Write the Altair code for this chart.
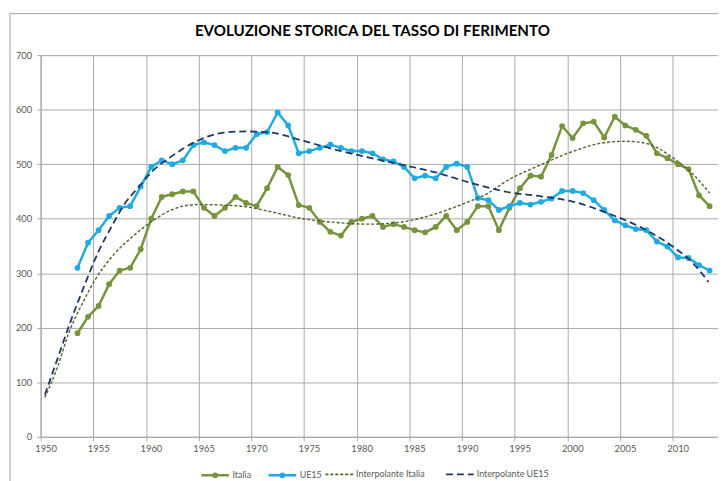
import altair as alt
import pandas as pd

# ---------------- data ----------------
years = list(range(1953, 2014))

italia = [190, 220, 240, 280, 305, 310, 344,
          400, 440, 445, 450, 450, 420, 405, 420, 440, 429,
          423, 456, 495, 480, 425, 420, 394, 376, 369, 394,
          400, 405, 385, 390, 385, 379, 375, 385, 405, 379,
          394, 423, 423, 379, 420, 456, 479, 477, 517, 570,
          548, 575, 578, 549, 587, 571, 563, 552, 520, 511,
          500, 491, 443, 423]

ue15 = [310, 356, 379, 405, 420, 423, 459,
        495, 507, 500, 507, 535, 540, 535, 524, 530, 530,
        555, 559, 595, 571, 520, 524, 530, 536, 530, 524,
        524, 520, 509, 505, 495, 474, 479, 474, 495, 501,
        495, 438, 434, 416, 423, 429, 426, 431, 437, 451,
        451, 447, 434, 416, 397, 388, 381, 379, 358, 349,
        329, 328, 315, 305]

fit_ita_x = [1950.4, 1951.6, 1952.7, 1954.0, 1955.2, 1956.8, 1958.7, 1960.5,
             1962.4, 1964.9, 1967.4, 1969.5, 1971.8, 1974.9, 1978.1, 1981.2,
             1984.3, 1987.5, 1990.6, 1992.2, 1994.3, 1997.5, 2000.6, 2003.7,
             2005.6, 2007.5, 2010.0, 2011.9, 2013.5]
fit_ita_y = [72, 128, 192, 246, 289, 331, 367, 394,
             416, 426, 425, 422, 413, 400, 393, 390,
             394, 409, 431, 444, 470, 499, 524, 540,
             542, 538, 512, 482, 447]

fit_ue_x = [1950.4, 1951.6, 1952.7, 1954.0, 1955.5, 1956.8, 1958.0, 1959.3,
            1960.5, 1962.4, 1964.9, 1967.4, 1969.5, 1971.8, 1974.9, 1978.1,
            1981.2, 1984.3, 1987.5, 1990.6, 1994.3, 1997.5, 2000.6, 2003.7,
            2006.9, 2010.0, 2011.9, 2013.4]
fit_ue_y = [77, 143, 204, 270, 340, 388, 428, 458,
            485, 514, 543, 558, 560, 558, 543, 526,
            512, 499, 485, 467, 449, 441, 431, 411,
            385, 349, 319, 284]

x_ticks = [1950, 1955, 1960, 1965, 1970, 1975, 1980, 1985, 1990, 1995, 2000, 2005, 2010]
y_ticks = [0, 100, 200, 300, 400, 500, 600, 700]

obs_series = ["Italia", "UE15"]
fit_series = ["Interpolante Italia", "Interpolante UE15"]

# ---------------- tables ----------------
obs = pd.DataFrame({
    "anno": years * 2,
    "valore": italia + ue15,
    "serie": ["Italia"] * len(years) + ["UE15"] * len(years),
})
# yearly values are drawn at mid-year, as in the original chart
obs["x"] = obs["anno"] + 0.5

fit = pd.DataFrame({
    "x": fit_ita_x + fit_ue_x,
    "valore": fit_ita_y + fit_ue_y,
    "serie": ["Interpolante Italia"] * len(fit_ita_x) + ["Interpolante UE15"] * len(fit_ue_x),
})

# ---------------- style ----------------
FONT = "Lato"
ITA = "#77933C"
UE = "#1FAAE2"
ITA_FIT = "#4F6228"
UE_FIT = "#1F3864"
GRID = "#a9a9a9"
LBL = "#595959"

W, H = 685, 386
xscale = alt.Scale(domain=[1950, 2014.3], nice=False, zero=False)
yscale = alt.Scale(domain=[0, 700], nice=False)

xaxis = alt.Axis(values=x_ticks, format="d", title=None, grid=True, gridColor=GRID,
                 domainColor=GRID, tickColor=GRID, tickSize=4, labelPadding=3,
                 labelOffset=5, labelFont=FONT, labelFontSize=9.5, labelColor=LBL,
                 labelFlush=False)
yaxis = alt.Axis(values=y_ticks, title=None, grid=True, gridColor=GRID,
                 domainColor=GRID, tickColor=GRID, tickSize=4, labelPadding=5,
                 labelFont=FONT, labelFontSize=9.5, labelColor=LBL)

X = alt.X("x:Q", scale=xscale, axis=xaxis)
Y = alt.Y("valore:Q", scale=yscale, axis=yaxis)

LINE_DOT = "M-1,0H1M-0.12,0A0.12,0.12,0,1,1,0.12,0A0.12,0.12,0,1,1,-0.12,0Z"

leg_obs = alt.Legend(orient="none", legendX=161, legendY=409, direction="horizontal",
                     title=None, symbolType=LINE_DOT, symbolSize=784,
                     symbolStrokeWidth=2.5, labelFont=FONT, labelFontSize=9,
                     labelColor=LBL, labelOffset=2, columnPadding=12)
leg_fit = alt.Legend(orient="none", legendX=287, legendY=409, direction="horizontal",
                     title=None, symbolType="stroke", symbolSize=784,
                     symbolStrokeWidth=1.6, labelFont=FONT, labelFontSize=9,
                     labelColor=LBL, labelOffset=2, columnPadding=17)

obs_color = alt.Color("serie:N", scale=alt.Scale(domain=obs_series, range=[ITA, UE]),
                      legend=leg_obs)

obs_lines = alt.Chart(obs).mark_line(strokeWidth=2.5).encode(x=X, y=Y, color=obs_color)
obs_points = alt.Chart(obs).mark_circle(size=34, opacity=1).encode(
    x=X, y=Y,
    color=alt.Color("serie:N", scale=alt.Scale(domain=obs_series, range=[ITA, UE]), legend=None),
)

fit_lines = alt.Chart(fit).mark_line(interpolate="monotone").encode(
    x=X, y=Y,
    color=alt.Color("serie:N", scale=alt.Scale(domain=fit_series, range=[ITA_FIT, UE_FIT]),
                    legend=leg_fit),
    strokeDash=alt.StrokeDash("serie:N", scale=alt.Scale(domain=fit_series, range=[[3, 2], [7, 4]]),
                              legend=leg_fit),
    strokeWidth=alt.StrokeWidth("serie:N", scale=alt.Scale(domain=fit_series, range=[1.4, 1.8]),
                                legend=None),
)

frame_df = pd.DataFrame({"k": [0]})
frame_left = alt.Chart(frame_df).mark_rule(color="#a0a0a0", strokeWidth=1).encode(
    x=alt.value(-31), y=alt.value(-42), y2=alt.value(440))
frame_top = alt.Chart(frame_df).mark_rule(color="#a0a0a0", strokeWidth=1).encode(
    x=alt.value(-31), x2=alt.value(700), y=alt.value(-42))

chart = alt.layer(
    alt.layer(obs_lines, obs_points),
    fit_lines,
    frame_left,
    frame_top,
).resolve_scale(color="independent", strokeDash="independent").properties(
    width=W,
    height=H,
    autosize=alt.AutoSizeParams(type="none"),
    padding={"left": 33, "top": 45, "right": 0, "bottom": 42},
    title=alt.TitleParams("EVOLUZIONE STORICA DEL TASSO DI FERIMENTO", font=FONT,
                          fontSize=15.3, fontWeight="bold", color="#000000",
                          anchor="middle", frame="group", offset=-26, dx=-7),
).configure_view(stroke=None).configure(background="white")

chart.save("out.html", embed_options={"renderer": "svg", "actions": False})
